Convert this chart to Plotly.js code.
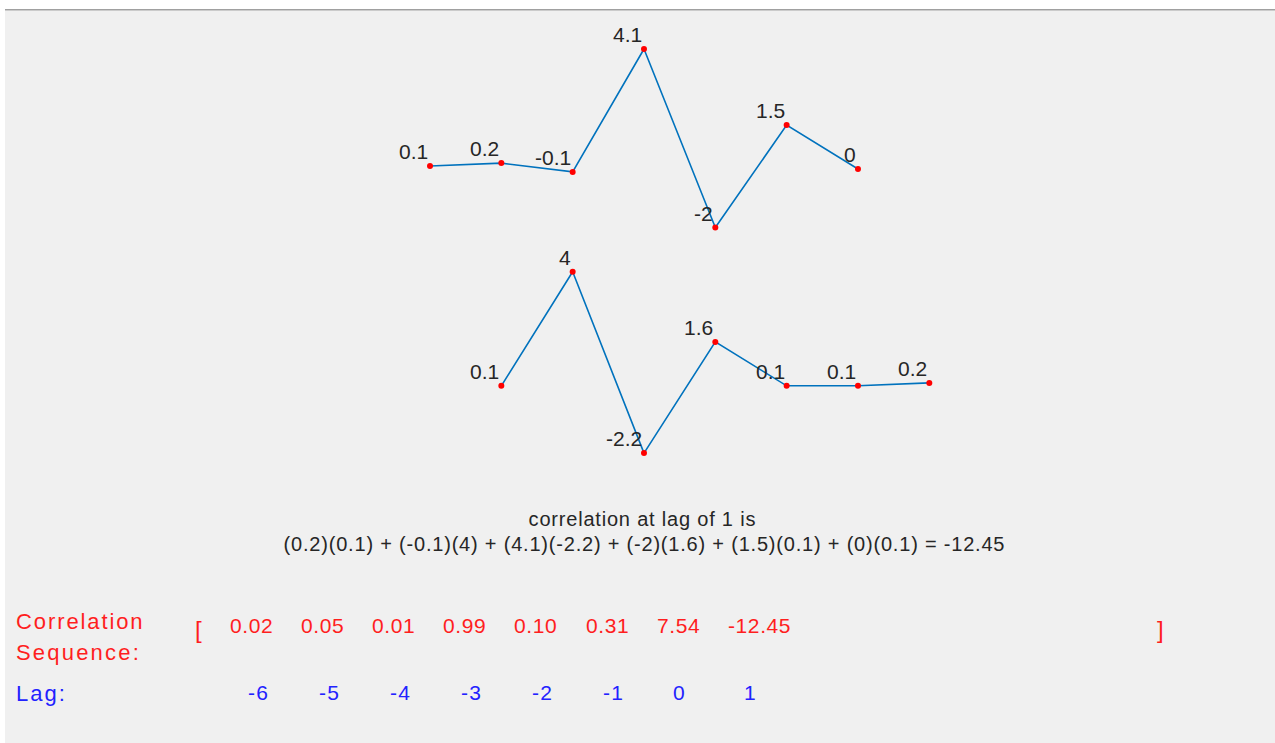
<!DOCTYPE html>
<html>
<head>
<meta charset="utf-8">
<script src="https://cdn.plot.ly/plotly-3.0.1.min.js"></script>
<style>
  html, body { margin: 0; padding: 0; background: #ffffff; }
  #chart { width: 1275px; height: 743px; }
</style>
</head>
<body>
<div id="chart"></div>
<script>
// ---- data ----
const seqA = [0.1, 0.2, -0.1, 4.1, -2, 1.5, 0];        // upper signal
const seqB = [0.1, 4, -2.2, 1.6, 0.1, 0.1, 0.2];       // lower signal (shifted)
const idxA = [1, 2, 3, 4, 5, 6, 7];                    // sample positions of upper signal
const shownLag = 1;                                    // lag illustrated
const idxB = idxA.map(i => i + shownLag);              // sample positions of lower signal
const corrSeq = [0.02, 0.05, 0.01, 0.99, 0.10, 0.31, 7.54, -12.45];
const lagLabels = [-6, -5, -4, -3, -2, -1, 0, 1];
const headerText = "correlation at lag of " + shownLag + " is";
const seqLabel1 = "Correlation";
const seqLabel2 = "Sequence:";
const lagLabel = "Lag:";

// ---- page geometry ----
const W = 1275, H = 743;
const px = x => x / W;
const py = y => 1 - y / H;

// equation text built from the two signals
const terms = [];
idxB.forEach((p, j) => {
  const i = idxA.indexOf(p);
  if (i >= 0) terms.push("(" + seqA[i] + ")(" + seqB[j] + ")");
});
const eqText = terms.join(" + ") + " = " + corrSeq[lagLabels.indexOf(shownLag)].toFixed(2);

const TXT = "#262626";
const RED = "#ff1e1e";
const BLUE = "#2222ff";
const FONT = "Liberation Sans, Arial, sans-serif";

const traces = [
  { x: idxA, y: seqA, xaxis: "x", yaxis: "y", mode: "lines+markers",
    line: { color: "#0072bd", width: 1.6 },
    marker: { color: "#ff0000", size: 6 }, hoverinfo: "skip" },
  { x: idxB, y: seqB, xaxis: "x", yaxis: "y2", mode: "lines+markers",
    line: { color: "#0072bd", width: 1.6 },
    marker: { color: "#ff0000", size: 6 }, hoverinfo: "skip" }
];

const ann = [];
const spacing = [];   // letter spacing per annotation (px)
function add(a, ls) { ann.push(Object.assign({ showarrow: false, borderpad: 1 }, a)); spacing.push(ls || 0); }

seqA.forEach((v, i) => add({ x: idxA[i], y: v, xref: "x", yref: "y", text: String(v),
  xanchor: "right", yanchor: "bottom", yshift: 1, font: { family: FONT, size: 21, color: TXT } }));
seqB.forEach((v, i) => add({ x: idxB[i], y: v, xref: "x", yref: "y2", text: String(v),
  xanchor: "right", yanchor: "bottom", yshift: 1, font: { family: FONT, size: 21, color: TXT } }));

add({ x: px(642), y: py(518.5), xref: "paper", yref: "paper", text: headerText,
  xanchor: "center", yanchor: "middle", font: { family: FONT, size: 20, color: TXT } }, 0.8);
add({ x: px(644), y: py(543.5), xref: "paper", yref: "paper", text: eqText,
  xanchor: "center", yanchor: "middle", font: { family: FONT, size: 20, color: TXT } }, 0.8);

add({ x: px(14), y: py(621.4), xref: "paper", yref: "paper", text: seqLabel1, align: "left",
  xanchor: "left", yanchor: "middle", font: { family: FONT, size: 22, color: RED } }, 1.9);
add({ x: px(14), y: py(652.5), xref: "paper", yref: "paper", text: seqLabel2, align: "left",
  xanchor: "left", yanchor: "middle", font: { family: FONT, size: 22, color: RED } }, 2.2);
add({ x: px(14), y: py(693.9), xref: "paper", yref: "paper", text: lagLabel, align: "left",
  xanchor: "left", yanchor: "middle", font: { family: FONT, size: 22, color: BLUE } }, 2);

add({ x: px(198.5), y: py(629.7), xref: "paper", yref: "paper", text: "[",
  xanchor: "center", yanchor: "middle", font: { family: FONT, size: 24, color: RED } });
add({ x: px(1160), y: py(629.7), xref: "paper", yref: "paper", text: "]",
  xanchor: "center", yanchor: "middle", font: { family: FONT, size: 24, color: RED } });

corrSeq.forEach((v, i) => add({ x: px(228 + i * 71.1), y: py(625.7), xref: "paper", yref: "paper",
  text: v.toFixed(2), align: "left", xanchor: "left", yanchor: "middle",
  font: { family: FONT, size: 21, color: RED } }, 0.6));
lagLabels.forEach((v, i) => add({ x: px(246 + i * 70.9), y: py(692.7), xref: "paper", yref: "paper",
  text: String(v), align: "left", xanchor: "left", yanchor: "middle",
  font: { family: FONT, size: 21, color: BLUE } }, 1.2));

// letter spacing styles
const css = spacing.map((s, i) => s ? `g.annotation[data-index="${i}"] text{letter-spacing:${s}px;}` : "").join("");
const st = document.createElement("style"); st.textContent = css; document.head.appendChild(st);

// axes: 71.33 px per sample, 29.26 px per unit
const xPerUnit = 71.33, yPerUnit = 29.26;
const x1px = 430;
const xr = [1 - x1px / xPerUnit, 1 + (W - x1px) / xPerUnit];
const topAt = 5.775, botTopAt = 13.286, span = H / yPerUnit;

const hidden = { visible: false, showgrid: false, zeroline: false, fixedrange: true };
const layout = {
  width: W, height: H,
  margin: { l: 0, r: 0, t: 0, b: 0, pad: 0 },
  paper_bgcolor: "#ffffff", plot_bgcolor: "rgba(0,0,0,0)",
  showlegend: false,
  xaxis: Object.assign({ range: xr, domain: [0, 1] }, hidden),
  yaxis: Object.assign({ range: [topAt - span, topAt], domain: [0, 1] }, hidden),
  yaxis2: Object.assign({ range: [botTopAt - span, botTopAt], domain: [0, 1], overlaying: "y" }, hidden),
  shapes: [
    { type: "rect", xref: "paper", yref: "paper", x0: px(5), x1: 1, y0: 0, y1: py(10.5),
      fillcolor: "#f0f0f0", line: { width: 0 }, layer: "below" },
    { type: "line", xref: "paper", yref: "paper", x0: px(5), x1: 1, y0: py(9.8), y1: py(9.8),
      line: { color: "#a0a0a0", width: 1.6 }, layer: "below" }
  ],
  annotations: ann
};

Plotly.newPlot("chart", traces, layout, { displayModeBar: false, staticPlot: true });
</script>
</body>
</html>
